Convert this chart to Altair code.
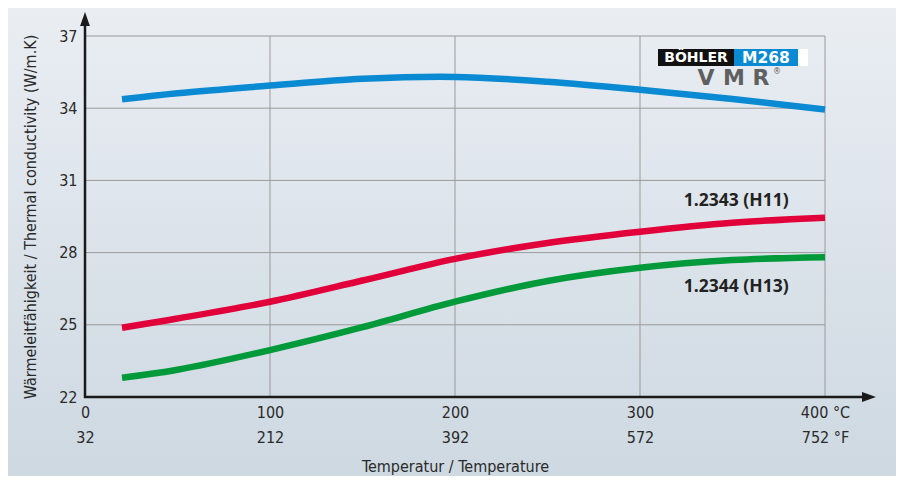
import altair as alt
import pandas as pd

# ---- data ----
temps_c = [20, 50, 100, 150, 200, 250, 300, 350, 400]
m268_vmr = [34.37, 34.62, 34.94, 35.22, 35.30, 35.10, 34.77, 34.38, 33.95]
h11 = [24.88, 25.26, 25.96, 26.84, 27.74, 28.40, 28.87, 29.24, 29.45]
h13 = [22.80, 23.13, 23.95, 24.90, 25.96, 26.82, 27.37, 27.69, 27.81]

series_names = ["BÖHLER M268 VMR", "1.2343 (H11)", "1.2344 (H13)"]
series_colors = ["#0a8ad2", "#e2003a", "#009a3a"]

x_ticks_c = [0, 100, 200, 300, 400]
x_labels_c = ["0", "100", "200", "300", "400 °C"]
x_labels_f = ["32", "212", "392", "572", "752 °F"]
y_ticks = [22, 25, 28, 31, 34, 37]

label_texts = ["1.2343 (H11)", "1.2344 (H13)"]
label_x = [352, 352]
label_y = [30.15, 26.55]

W, H = 740, 361
PAD = {"left": 77, "top": 28, "right": 71, "bottom": 79}
FONT = "Liberation Sans Narrow, DejaVu Sans Condensed, sans-serif"

rows = []
for name, vals in zip(series_names, [m268_vmr, h11, h13]):
    for t, v in zip(temps_c, vals):
        rows.append({"series": name, "temp": t, "k": v})
df = pd.DataFrame(rows)

lab_expr = ""
for v, c, f in zip(x_ticks_c, x_labels_c, x_labels_f):
    lab_expr += f"datum.value == {v} ? ['{c}', '{f}'] : "
lab_expr += "''"

xscale = alt.Scale(domain=[0, 400], nice=False, zero=False)
yscale = alt.Scale(domain=[22, 37], nice=False, zero=False)

x_axis = alt.Axis(values=x_ticks_c, labelExpr=lab_expr, title="Temperatur / Temperature",
                  grid=False, ticks=False, domain=False, zindex=1,
                  labelFont=FONT, labelFontSize=16,
                  labelColor="#2a2a2a", labelPadding=7, labelLineHeight=25,
                  labelFlush=False, labelOverlap=False,
                  titleFont=FONT, titleFontSize=16, titleFontWeight="normal",
                  titleColor="#2a2a2a", titlePadding=13)
y_axis = alt.Axis(values=y_ticks, title="Wärmeleitfähigkeit / Thermal conductivity (W/m.K)",
                  grid=False, ticks=False, domain=False, zindex=1,
                  labelFont=FONT, labelFontSize=16,
                  labelColor="#2a2a2a", labelPadding=8, labelFlush=False,
                  labelOverlap=False,
                  titleFont=FONT, titleFontSize=16, titleFontWeight="normal",
                  titleColor="#2a2a2a", titlePadding=20)

one = pd.DataFrame({"a": [0]})

# background gradient
bg = alt.Chart(one).mark_rect(
    color=alt.LinearGradient(
        gradient="linear", x1=0, x2=0, y1=0, y2=1,
        stops=[alt.GradientStop(color="#eaeef3", offset=0),
               alt.GradientStop(color="#cdd8e1", offset=1)],
    )
).encode(
    x=alt.value(-PAD["left"] - 10), x2=alt.value(W + PAD["right"] + 10),
    y=alt.value(-PAD["top"] - 10), y2=alt.value(H + PAD["bottom"] + 10),
)

# gridlines drawn from tick lists
vgrid = alt.Chart(pd.DataFrame({"t": x_ticks_c})).mark_rule(color="#9a9a9a", strokeWidth=1).encode(
    x=alt.X("t:Q", scale=xscale, axis=x_axis), y=alt.value(0), y2=alt.value(H))
hgrid = alt.Chart(pd.DataFrame({"v": y_ticks})).mark_rule(color="#9a9a9a", strokeWidth=1).encode(
    y=alt.Y("v:Q", scale=yscale, axis=y_axis), x=alt.value(0), x2=alt.value(W))

lines = alt.Chart(df).mark_line(strokeWidth=6.5, interpolate="catmull-rom", strokeCap="butt").encode(
    x=alt.X("temp:Q", scale=xscale, axis=x_axis),
    y=alt.Y("k:Q", scale=yscale, axis=y_axis),
    color=alt.Color("series:N", scale=alt.Scale(domain=series_names, range=series_colors), legend=None),
)

labels = alt.Chart(pd.DataFrame({"t": label_texts, "x": label_x, "y": label_y})).mark_text(
    font="Open Sans, DejaVu Sans, sans-serif", fontSize=17.5, fontWeight="bold",
    color="#222222", align="center", baseline="middle"
).encode(x=alt.X("x:Q", scale=xscale, axis=x_axis), y=alt.Y("y:Q", scale=yscale, axis=y_axis),
         text="t:N")

# axis lines with arrows
yaxis_line = alt.Chart(one).mark_rule(color="#1a1a1a", strokeWidth=2.5).encode(
    x=alt.value(0), y=alt.value(H + 1), y2=alt.value(-12))
xaxis_line = alt.Chart(one).mark_rule(color="#1a1a1a", strokeWidth=2.5).encode(
    x=alt.value(-1), x2=alt.value(W + 44), y=alt.value(H))
yarrow = alt.Chart(one).mark_point(shape="M-0.7,1L0,-1L0.7,1Z", filled=True, opacity=1,
                                   color="#1a1a1a", size=196).encode(
    x=alt.value(0), y=alt.value(-17))
xarrow = alt.Chart(one).mark_point(shape="M-1,-0.7L1,0L-1,0.7Z", filled=True, opacity=1,
                                   color="#1a1a1a", size=196).encode(
    x=alt.value(W + 44), y=alt.value(H))

# logo
def box(x1, x2, c):
    return alt.Chart(one).mark_rect(color=c).encode(
        x=alt.value(x1), x2=alt.value(x2), y=alt.value(13), y2=alt.value(30))

def txt(t, x, y, size, color, weight="bold", font="DejaVu Sans"):
    return alt.Chart(one).mark_text(text=t, font=font, fontWeight=weight, fontSize=size,
                                    color=color, align="center", baseline="middle").encode(
        x=alt.value(x), y=alt.value(y))

logo = [
    box(573, 649, "#111111"), box(649, 713, "#0a8ad2"), box(713, 723, "#ffffff"),
    txt("BÖHLER", 611, 22, 14, "#ffffff"),
    txt("M268", 681, 22, 15.5, "#ffffff"),
    txt("V", 621, 42, 22, "#5f5f5f"),
    txt("M", 649, 42, 22, "#5f5f5f"),
    txt("R", 676, 42, 22, "#5f5f5f"),
    txt("®", 692, 36, 8, "#5f5f5f", weight="normal"),
]

chart = alt.layer(
    bg, vgrid, hgrid, lines, labels, yaxis_line, xaxis_line, yarrow, xarrow, *logo,
).properties(
    width=W, height=H, padding=PAD, autosize=alt.AutoSizeParams(type="none"),
    background="#dfe6ec",
).configure_view(stroke=None)

chart.save("out.html", embed_options={"renderer": "svg", "actions": False})
